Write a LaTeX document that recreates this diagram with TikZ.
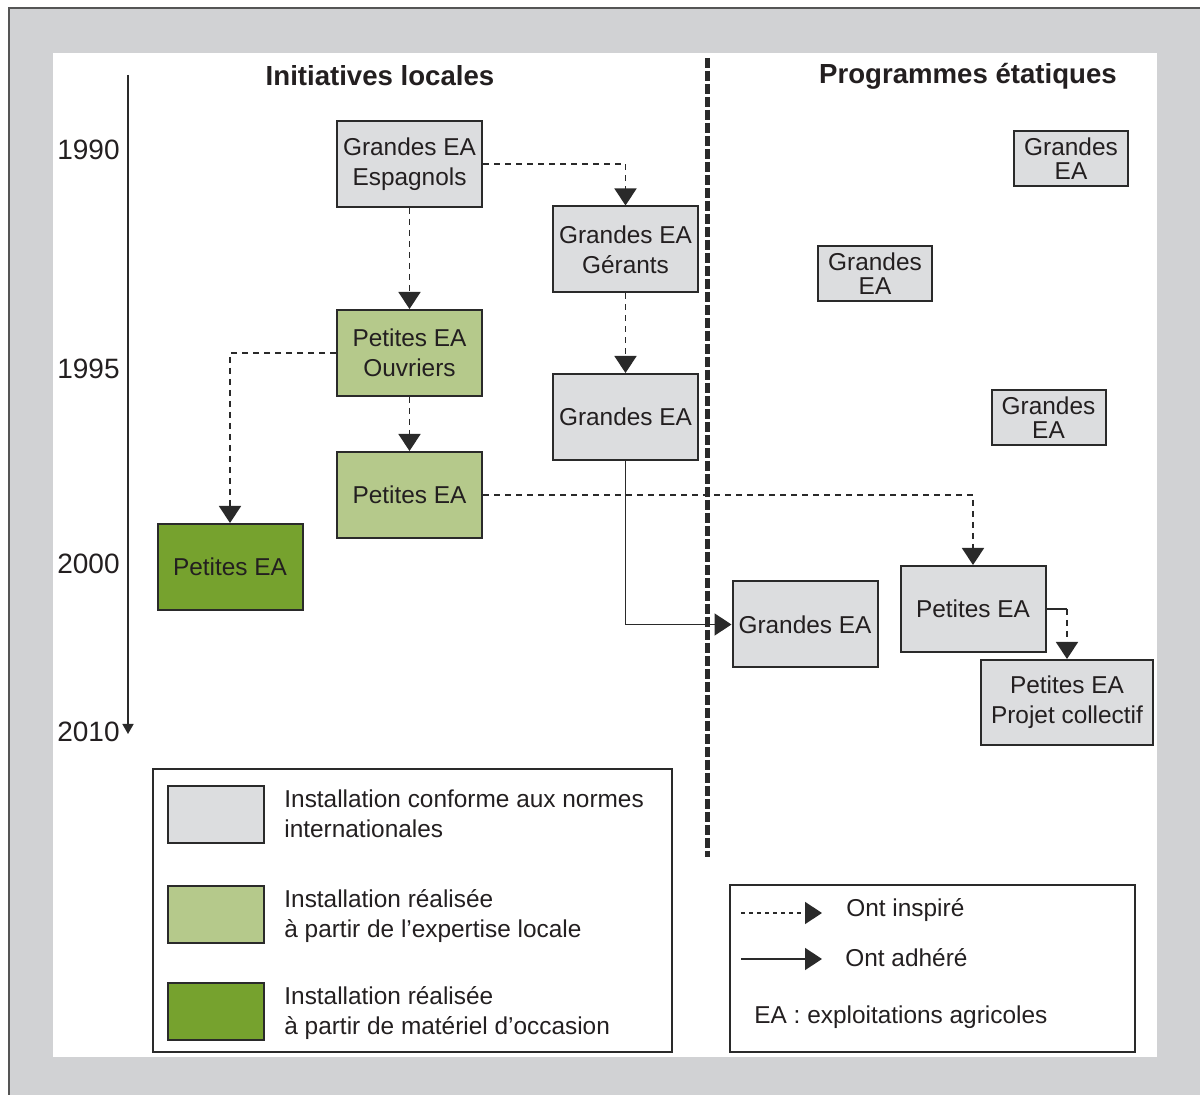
\documentclass[tikz,border=0pt]{standalone}
\usepackage{fontspec}
\setmainfont{Liberation Sans}
\usetikzlibrary{arrows.meta}
\definecolor{bggray}{HTML}{D1D2D4}
\definecolor{boxgray}{HTML}{DCDDDF}
\definecolor{lightgreen}{HTML}{B5C98B}
\definecolor{darkgreen}{HTML}{76A22E}
\definecolor{linec}{HTML}{2A2A2A}
\definecolor{txt}{HTML}{231F20}
\begin{document}
\begin{tikzpicture}[x=0.5pt,y=-0.5pt,
  box/.style={draw=linec, line width=1pt, inner sep=0pt, minimum width=72.5pt, minimum height=43pt,
    align=center, font=\fontsize{12.2}{15}\selectfont, text=txt},
  smallbox/.style={box, fill=boxgray, minimum width=57pt, minimum height=27.5pt, font=\fontsize{12.2}{12}\selectfont},
  tip/.style={-{Triangle[length=8.5pt,width=11pt]}},
  insp/.style={draw=linec, line width=0.8pt, dash pattern=on 3pt off 2.5pt, tip},
  adh/.style={draw=linec, line width=0.8pt, tip},
  year/.style={anchor=east, inner sep=0pt, text=txt, font=\fontsize{14}{14}\selectfont},
  titlet/.style={inner sep=0pt, text=txt, font=\fontsize{13.8}{14}\selectfont\bfseries},
  legtext/.style={anchor=west, inner sep=0pt, align=left, text=txt, font=\fontsize{12.2}{15}\selectfont},
  swatch/.style={draw=linec, line width=1pt, inner sep=0pt, minimum width=48pt, minimum height=28.5pt}]
\useasboundingbox (0,0) rectangle (1200,1095);
\fill[white] (0,0) rectangle (1200,1095);
\fill[bggray] (9,8) rectangle (1200,1095);
\draw[draw=linec!80, line width=1pt] (9,1095) -- (9,8) -- (1200,8);
\fill[white] (53,53) rectangle (1157,1057);

% titles
\node[titlet] (t1) at (380,76) {Initiatives locales};
\node[titlet] (t2) at (968,76) {Programmes étatiques};

% timeline
\coordinate (ax0) at (128,75);
\coordinate (ax1) at (128,734);
\draw[draw=linec, line width=0.75pt, -{Triangle[length=5pt,width=5.5pt]}] (ax0) -- (ax1);
\node[year] (y1) at (120,150) {1990};
\node[year] (y2) at (120,369) {1995};
\node[year] (y3) at (120,564) {2000};
\node[year] (y4) at (120,732) {2010};

% divider
\coordinate (d0) at (707,58);
\coordinate (d1) at (707,857);
\draw[draw=linec, line width=2.5pt, dash pattern=on 5pt off 1.5pt] (d0) -- (d1);

% boxes
\node[box, fill=boxgray] (esp) at (409.5,164) {Grandes EA\\Espagnols};
\node[box, fill=boxgray] (ger) at (625.5,249.5) {Grandes EA\\Gérants};
\node[box, fill=lightgreen] (ouv) at (409.5,353) {Petites EA\\Ouvriers};
\node[box, fill=boxgray] (gem) at (625.5,417) {Grandes EA};
\node[box, fill=lightgreen] (pel) at (409.5,495) {Petites EA};
\node[box, fill=darkgreen] (ped) at (230,567) {Petites EA};
\node[box, fill=boxgray] (ger2) at (805,624.5) {Grandes EA};
\node[box, fill=boxgray] (per) at (973,609) {Petites EA};
\node[box, fill=boxgray, minimum width=86pt, minimum height=42.5pt] (pc) at (1067,702.5) {Petites EA\\Projet collectif};
\node[smallbox] (s1) at (1071,158.5) {Grandes\\EA};
\node[smallbox] (s2) at (875,274) {Grandes\\EA};
\node[smallbox] (s3) at (1048.5,417.5) {Grandes\\EA};

% connectors
\draw[insp] (esp.east) -| (ger.north);
\draw[insp] (esp.south) -- (ouv.north);
\draw[insp] (ger.south) -- (gem.north);
\draw[insp] (ouv.west) -| (ped.north);
\draw[insp] (ouv.south) -- (pel.north);
\draw[insp] (pel.east) -| (per.north);
\draw[adh] (gem.south) |- (ger2.west);
\coordinate (c1) at (pc.north |- per.east);
\draw[draw=linec, line width=0.8pt] (per.east) -- (c1);
\draw[insp] (c1) -- (pc.north);

% legend left
\node[draw=linec, line width=0.75pt, minimum width=259.5pt, minimum height=141.5pt, inner sep=0pt] (leg1) at (412.5,910.5) {};
\node[swatch, fill=boxgray] (sw1) at (216,814.5) {};
\node[swatch, fill=lightgreen] (sw2) at (216,914.5) {};
\node[swatch, fill=darkgreen] (sw3) at (216,1011.5) {};
\node[legtext] (l1) at (284,814) {Installation conforme aux normes\\internationales};
\node[legtext] (l2) at (284,916) {Installation réalisée\\à partir de l’expertise locale};
\node[legtext] (l3) at (284,1013) {Installation réalisée\\à partir de matériel d’occasion};

% legend right
\node[draw=linec, line width=0.75pt, minimum width=202.5pt, minimum height=83.5pt, inner sep=0pt] (leg2) at (932.5,968.5) {};
\coordinate (a0) at (741,913);
\coordinate (a1) at (822,913);
\coordinate (b0) at (741,959);
\coordinate (b1) at (822,959);
\draw[draw=linec, line width=0.75pt, dash pattern=on 2pt off 2pt, tip] (a0) -- (a1);
\draw[adh] (b0) -- (b1);
\node[legtext] (r1) at (846,910) {Ont inspiré};
\node[legtext] (r2) at (845,958) {Ont adhéré};
\node[legtext] (r3) at (754,1017) {EA : exploitations agricoles};
\end{tikzpicture}
\end{document}
